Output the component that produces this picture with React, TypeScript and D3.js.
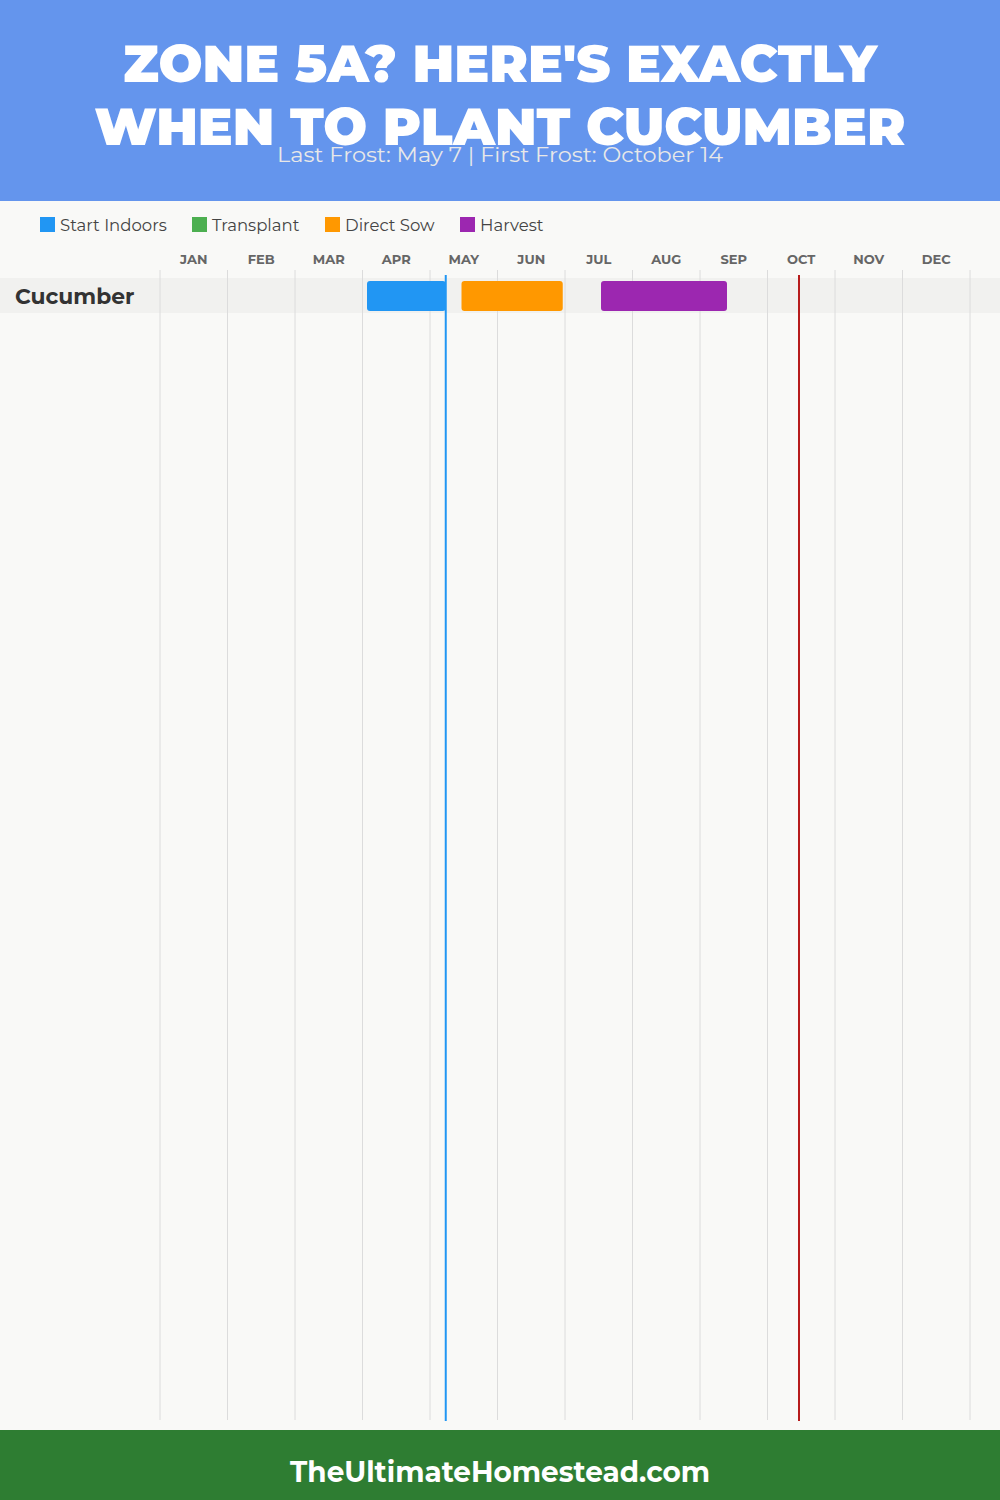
import React, { useEffect } from "react";
import * as d3 from "d3";

const months = ["JAN", "FEB", "MAR", "APR", "MAY", "JUN", "JUL", "AUG", "SEP", "OCT", "NOV", "DEC"];
const crops = ["Cucumber"];
const legendLabels = ["Start Indoors", "Transplant", "Direct Sow", "Harvest"];
const legendColors = ["#2196F3", "#4CAF50", "#FF9800", "#9C27B0"];
// [crop, activity, startMonth(1-12), startDay, endMonth, endDay]
const periods: [string, string, number, number, number, number][] = [
  ["Cucumber", "Start Indoors", 4, 2, 5, 7],
  ["Cucumber", "Direct Sow", 5, 14, 6, 29],
  ["Cucumber", "Harvest", 7, 16, 9, 12],
];
const lastFrost: [number, number] = [5, 7];
const firstFrost: [number, number] = [10, 14];

const W = 1000;
const H = 1500;

export default function App() {
  useEffect(() => {
    document.body.style.margin = "0";
  }, []);
  const x = d3.scaleLinear().domain([0, 12]).range([160, 970]);
  const dx = (m: number, d: number) => x(m - 1 + d / 30);
  const band = d3.scaleBand().domain(crops).range([278, 313]).padding(0);
  const color = d3.scaleOrdinal<string, string>().domain(legendLabels).range(legendColors);
  const legendX = [40, 192, 325, 460];
  const titleFont = "Montserrat, Inter, 'DejaVu Sans', sans-serif";
  const font = "Montserrat, 'Open Sans', 'DejaVu Sans', sans-serif";

  return (
    <svg width={W} height={H} style={{ display: "block", position: "absolute", left: 0, top: 0 }}>
      <rect x={0} y={0} width={W} height={H} fill="#f9f9f7" />
      <rect x={0} y={0} width={W} height={201} fill="#6495ED" />
      <text x={500} y={82} textAnchor="middle" fill="#fff" fontFamily={titleFont} fontWeight={900} fontSize={52}
        textLength={754} lengthAdjust="spacingAndGlyphs">ZONE 5A? HERE'S EXACTLY</text>
      <text x={500} y={145} textAnchor="middle" fill="#fff" fontFamily={titleFont} fontWeight={900} fontSize={52}
        textLength={811} lengthAdjust="spacingAndGlyphs">WHEN TO PLANT CUCUMBER</text>
      <text x={500} y={162} textAnchor="middle" fill="#e8e8e8" fontFamily={font} fontWeight={400} fontSize={20}
        textLength={446} lengthAdjust="spacingAndGlyphs">Last Frost: May 7 | First Frost: October 14</text>

      {legendLabels.map((l, i) => (
        <g key={l}>
          <rect x={legendX[i]} y={217} width={15} height={15} fill={color(l)} />
          <text x={legendX[i] + 20} y={231} fill="#444" fontFamily={font} fontSize={16.5}>{l}</text>
        </g>
      ))}

      {months.map((m, i) => (
        <text key={m} x={x(i + 0.5)} y={264} textAnchor="middle" fill="#666" fontFamily={font} fontWeight={700} fontSize={13}>{m}</text>
      ))}

      {crops.map((c) => (
        <rect key={c} x={0} y={band(c)} width={W} height={band.bandwidth()} fill="#f1f1ef" />
      ))}

      {d3.range(13).map((i) => (
        <line key={i} x1={x(i)} x2={x(i)} y1={270} y2={1420} stroke="#dcdcdc" strokeWidth={1} />
      ))}

      {periods.map(([c, a, sm, sd, em, ed]) => (
        <rect key={a} x={dx(sm, sd)} y={band(c)! + 3} width={dx(em, ed) - dx(sm, sd)} height={band.bandwidth() - 5}
          rx={3} fill={color(a)} />
      ))}

      {crops.map((c) => (
        <text key={c} x={15} y={band(c)! + 25.5} fill="#333" fontFamily={font} fontWeight={700} fontSize={21.8}>{c}</text>
      ))}

      <line x1={dx(...lastFrost)} x2={dx(...lastFrost)} y1={275} y2={1421} stroke="#2196F3" strokeWidth={2} />
      <line x1={dx(...firstFrost)} x2={dx(...firstFrost)} y1={275} y2={1421} stroke="#B71C1C" strokeWidth={2} />

      <rect x={0} y={1430} width={W} height={70} fill="#2E7D32" />
      <text x={500} y={1482} textAnchor="middle" fill="#fff" fontFamily={font} fontWeight={700} fontSize={29}
        textLength={420} lengthAdjust="spacingAndGlyphs">TheUltimateHomestead.com</text>
    </svg>
  );
}
